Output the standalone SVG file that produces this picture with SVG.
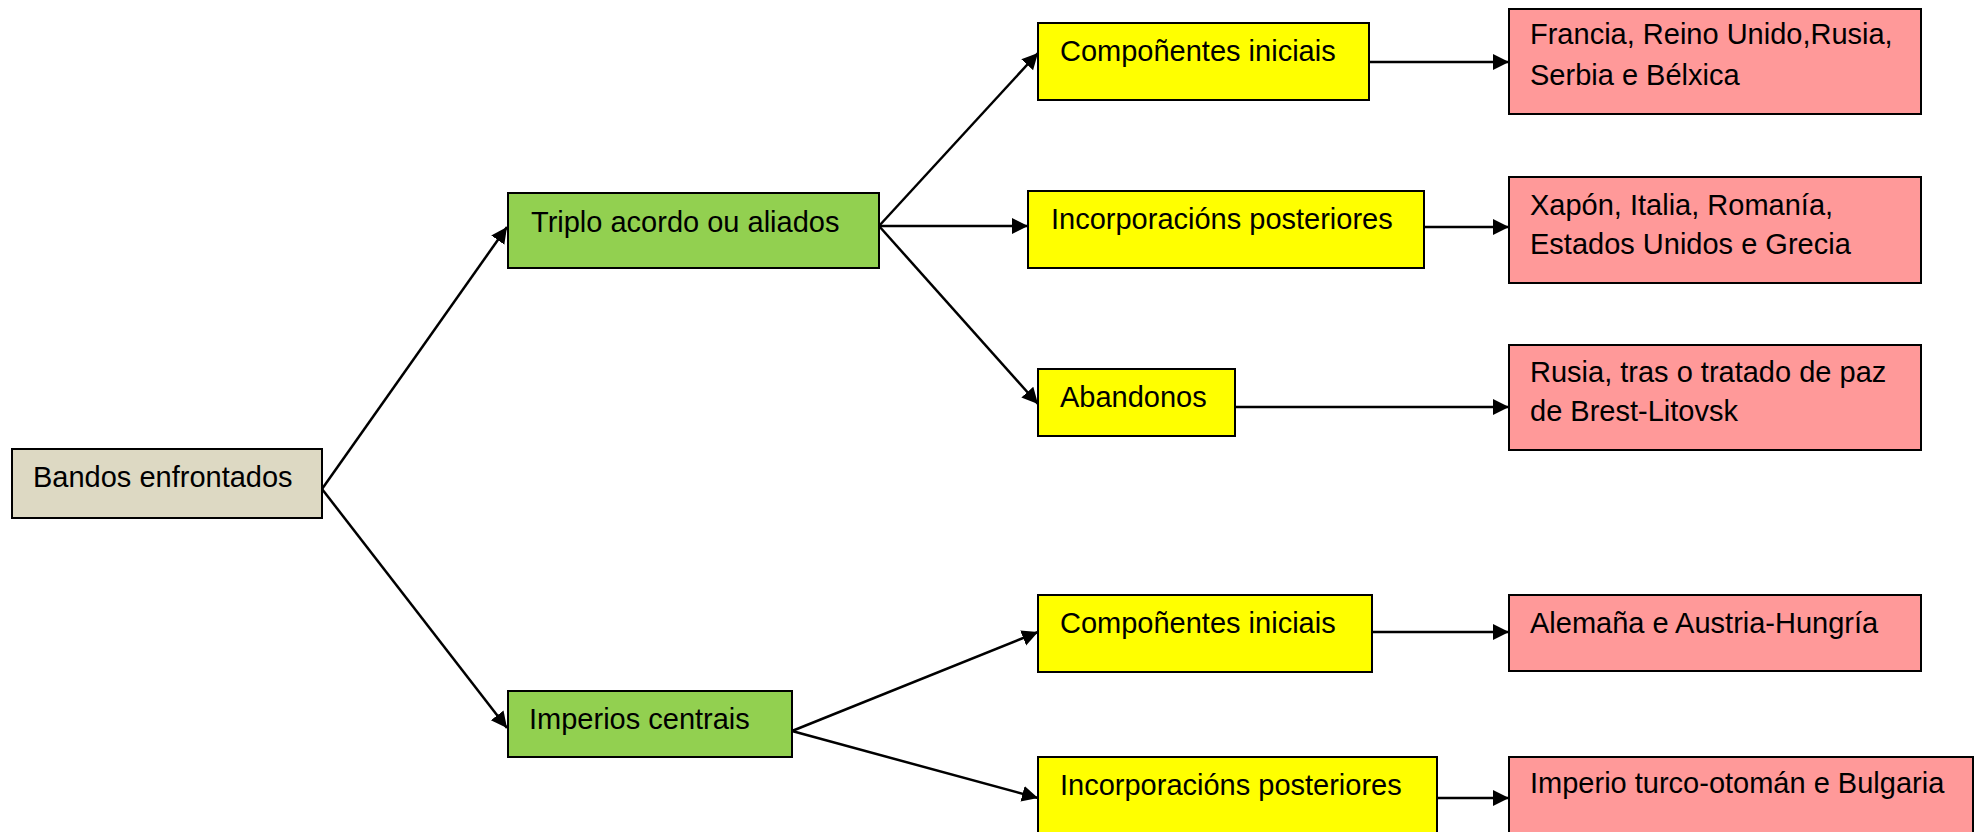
<svg xmlns="http://www.w3.org/2000/svg" width="1982" height="832" viewBox="0 0 1982 832">
<style>
.box{stroke:#000;stroke-width:2}
.root{fill:#DDD9C3}
.green{fill:#92D050}
.yellow{fill:#FFFF00}
.pink{fill:#FF9999}
text{font-family:"Liberation Sans",Arial,sans-serif;font-size:29px;fill:#000}
.conn line{stroke:#000;stroke-width:2.5;marker-end:url(#arr)}
</style>
<defs>
<marker id="arr" markerUnits="userSpaceOnUse" markerWidth="18" markerHeight="18" refX="16" refY="8" orient="auto">
<path d="M0,0 L16,8 L0,16 z" fill="#000"/>
</marker>
</defs>
<rect width="1982" height="832" fill="#fff"/>
<g id="connectors" class="conn">
<line x1="322" y1="489" x2="507" y2="227"/>
<line x1="322" y1="489" x2="507" y2="728"/>
<line x1="879" y1="226" x2="1038" y2="53"/>
<line x1="879" y1="226" x2="1028" y2="226"/>
<line x1="879" y1="226" x2="1038" y2="404"/>
<line x1="1369" y1="62" x2="1509" y2="62"/>
<line x1="1424" y1="227" x2="1509" y2="227"/>
<line x1="1235" y1="407" x2="1509" y2="407"/>
<line x1="792" y1="731" x2="1038" y2="632"/>
<line x1="792" y1="731" x2="1038" y2="798"/>
<line x1="1372" y1="632" x2="1509" y2="632"/>
<line x1="1437" y1="798" x2="1509" y2="798"/>
</g>
<g id="bandos"><rect class="box root" x="12" y="449" width="310" height="69"/><text x="33" y="487">Bandos enfrontados</text></g>
<g id="triplo"><rect class="box green" x="508" y="193" width="371" height="75"/><text x="531" y="232">Triplo acordo ou aliados</text></g>
<g id="imperios"><rect class="box green" x="508" y="691" width="284" height="66"/><text x="529" y="729">Imperios centrais</text></g>
<g id="comp1"><rect class="box yellow" x="1038" y="23" width="331" height="77"/><text x="1060" y="61">Compoñentes iniciais</text></g>
<g id="incorp1"><rect class="box yellow" x="1028" y="191" width="396" height="77"/><text x="1051" y="229">Incorporacións posteriores</text></g>
<g id="aband"><rect class="box yellow" x="1038" y="369" width="197" height="67"/><text x="1060" y="407">Abandonos</text></g>
<g id="comp2"><rect class="box yellow" x="1038" y="595" width="334" height="77"/><text x="1060" y="633">Compoñentes iniciais</text></g>
<g id="incorp2"><rect class="box yellow" x="1038" y="757" width="399" height="90"/><text x="1060" y="795">Incorporacións posteriores</text></g>
<g id="p1"><rect class="box pink" x="1509" y="9" width="412" height="105"/><text x="1530" y="44">Francia, Reino Unido,Rusia,</text><text x="1530" y="85">Serbia e Bélxica</text></g>
<g id="p2"><rect class="box pink" x="1509" y="177" width="412" height="106"/><text x="1530" y="215">Xapón, Italia, Romanía,</text><text x="1530" y="254">Estados Unidos e Grecia</text></g>
<g id="p3"><rect class="box pink" x="1509" y="345" width="412" height="105"/><text x="1530" y="382">Rusia, tras o tratado de paz</text><text x="1530" y="421">de Brest-Litovsk</text></g>
<g id="p4"><rect class="box pink" x="1509" y="595" width="412" height="76"/><text x="1530" y="633">Alemaña e Austria-Hungría</text></g>
<g id="p5"><rect class="box pink" x="1509" y="757" width="464" height="90"/><text x="1530" y="793">Imperio turco-otomán e Bulgaria</text></g>
</svg>
